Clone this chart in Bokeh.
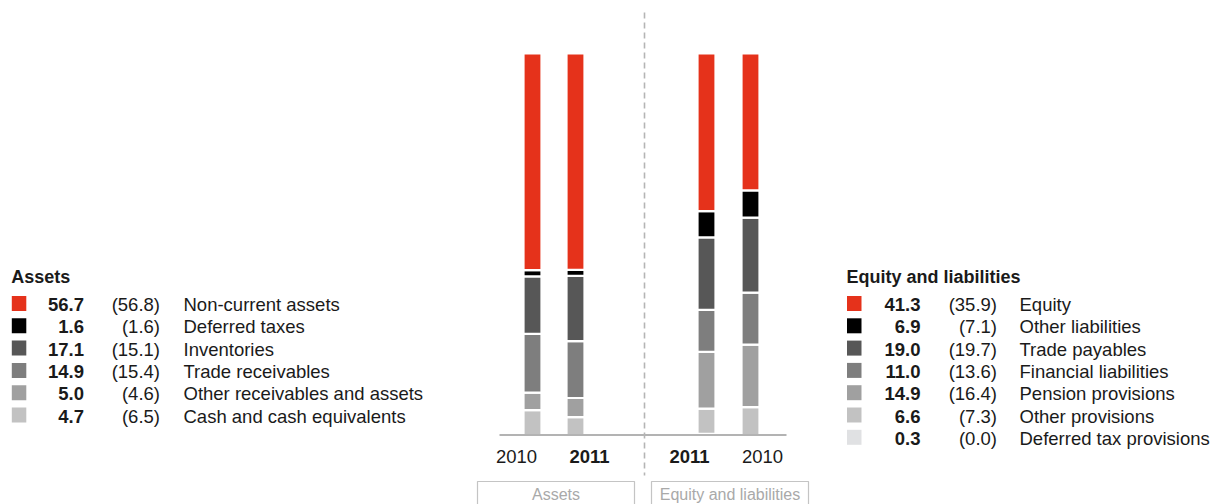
import numpy as np
from bokeh.plotting import figure
from bokeh.models import Range1d, ColumnDataSource
from bokeh.core.properties import value
from bokeh.embed import file_html
from bokeh.resources import INLINE

# ---------------- data ----------------
asset_labels = ["Non-current assets", "Deferred taxes", "Inventories", "Trade receivables",
                "Other receivables and assets", "Cash and cash equivalents"]
assets_2011 = [56.7, 1.6, 17.1, 14.9, 5.0, 4.7]
assets_2010 = [56.8, 1.6, 15.1, 15.4, 4.6, 6.5]

liab_labels = ["Equity", "Other liabilities", "Trade payables", "Financial liabilities",
               "Pension provisions", "Other provisions", "Deferred tax provisions"]
liab_2011 = [41.3, 6.9, 19.0, 11.0, 14.9, 6.6, 0.3]
liab_2010 = [35.9, 7.1, 19.7, 13.6, 16.4, 7.3, 0.0]

year_labels = ["2010", "2011", "2011", "2010"]
group_labels = ["Assets", "Equity and liabilities"]
legend_titles = ["Assets", "Equity and liabilities"]

# ---------------- styles ----------------
asset_colors = ["#e5321b", "#000000", "#575757", "#7e7e7e", "#a0a0a0", "#c2c2c2"]
liab_colors = ["#e5321b", "#000000", "#575757", "#7e7e7e", "#a0a0a0", "#c2c2c2", "#e0e1e3"]
FONT = "Liberation Sans"
TXT = "#1a1a1a"
TSHIFT = 7.0  # renderer places alphabetic baseline a little lower

W, H = 1214, 504
BASE_PX, TOP_PX = 434.5, 53.0
PX_PER = (BASE_PX - TOP_PX) / 100.0


def py(pix):
    """convert a pixel row (from top) into y data units"""
    return (BASE_PX - pix) / PX_PER


def ty(pix):
    return py(pix - TSHIFT)


p = figure(width=W, height=H, output_backend="svg", toolbar_location=None,
           x_range=Range1d(0, W), y_range=Range1d(py(H), py(0)),
           x_axis_location=None, y_axis_location=None, min_border=0)
p.outline_line_color = None
p.xgrid.visible = False
p.ygrid.visible = False
p.background_fill_color = "white"

# ---------------- bars ----------------
bar_x = [532, 575, 706, 750]
bar_sets = [(assets_2010, asset_colors), (assets_2011, asset_colors),
            (liab_2011, liab_colors), (liab_2010, liab_colors)]
xs, tops, bottoms, cols = [], [], [], []
for x, (vals, colors) in zip(bar_x, bar_sets):
    rev = list(vals)[::-1]
    rc = list(colors)[::-1]
    cum = np.concatenate([[0.0], np.cumsum(rev)])
    for i, v in enumerate(rev):
        if v <= 0:
            continue
        xs.append(x)
        bottoms.append(cum[i])
        tops.append(cum[i + 1])
        cols.append(rc[i])
src = ColumnDataSource(dict(x=xs, top=tops, bottom=bottoms, color=cols))
p.vbar(x="x", top="top", bottom="bottom", width=18, source=src,
       fill_color="color", line_color="white", line_width=2.2)

# baseline
p.line([499, 786], [0, 0], line_color="#b3b3b3", line_width=2)

# dashed divider
p.line([644, 644], [py(12), py(475)], line_color="#b5b5b5", line_width=1.6,
       line_dash="6 4")

# year labels
year_x = [516, 589, 689, 762]
year_bold = ["normal", "bold", "bold", "normal"]
p.text(x=year_x, y=[ty(463)] * 4, text=year_labels, text_align="center",
       text_baseline="alphabetic", text_font=value(FONT), text_font_size="18.5px",
       text_color=TXT, text_font_style=year_bold)

# group boxes
p.quad(left=[477, 651], right=[634, 808], top=[py(481)] * 2, bottom=[py(530)] * 2,
       fill_color=None, line_color="#c4c4c4", line_width=1.2)
p.text(x=[555.5, 729.5], y=[ty(501)] * 2, text=group_labels, text_align="center",
       text_baseline="alphabetic", text_font=value(FONT), text_font_size="16px",
       text_color="#a9a9a9")

# ---------------- legends ----------------
ROW = 22.3


def draw_legend(title, labels, cur, prev, colors, x_sq, x_val, x_prev, x_lab):
    p.text(x=[x_sq - 0.5], y=[ty(283)], text=[title], text_font=value(FONT),
           text_font_size="18px", text_font_style="bold", text_color=TXT,
           text_baseline="alphabetic")
    n = len(labels)
    rows_base = [ty(311 + i * ROW) for i in range(n)]
    sq_top = [py(295.5 + i * ROW) for i in range(n)]
    sq_bot = [py(310.5 + i * ROW) for i in range(n)]
    p.quad(left=[x_sq] * n, right=[x_sq + 14.5] * n, top=sq_top, bottom=sq_bot,
           fill_color=colors, line_color=None)
    p.text(x=[x_val] * n, y=rows_base, text=[f"{v:.1f}" for v in cur],
           text_align="right", text_baseline="alphabetic", text_font=value(FONT),
           text_font_size="18.5px", text_font_style="bold", text_color=TXT)
    p.text(x=[x_prev] * n, y=rows_base, text=[f"({v:.1f})" for v in prev],
           text_align="right", text_baseline="alphabetic", text_font=value(FONT),
           text_font_size="18.5px", text_color=TXT)
    p.text(x=[x_lab] * n, y=rows_base, text=labels,
           text_align="left", text_baseline="alphabetic", text_font=value(FONT),
           text_font_size="18.5px", text_color=TXT)


draw_legend(legend_titles[0], asset_labels, assets_2011, assets_2010, asset_colors,
            11.3, 83.5, 159.5, 183)
draw_legend(legend_titles[1], liab_labels, liab_2011, liab_2010, liab_colors,
            846.5, 920, 996.5, 1019)

open("out.html", "w").write(file_html(p, INLINE))
